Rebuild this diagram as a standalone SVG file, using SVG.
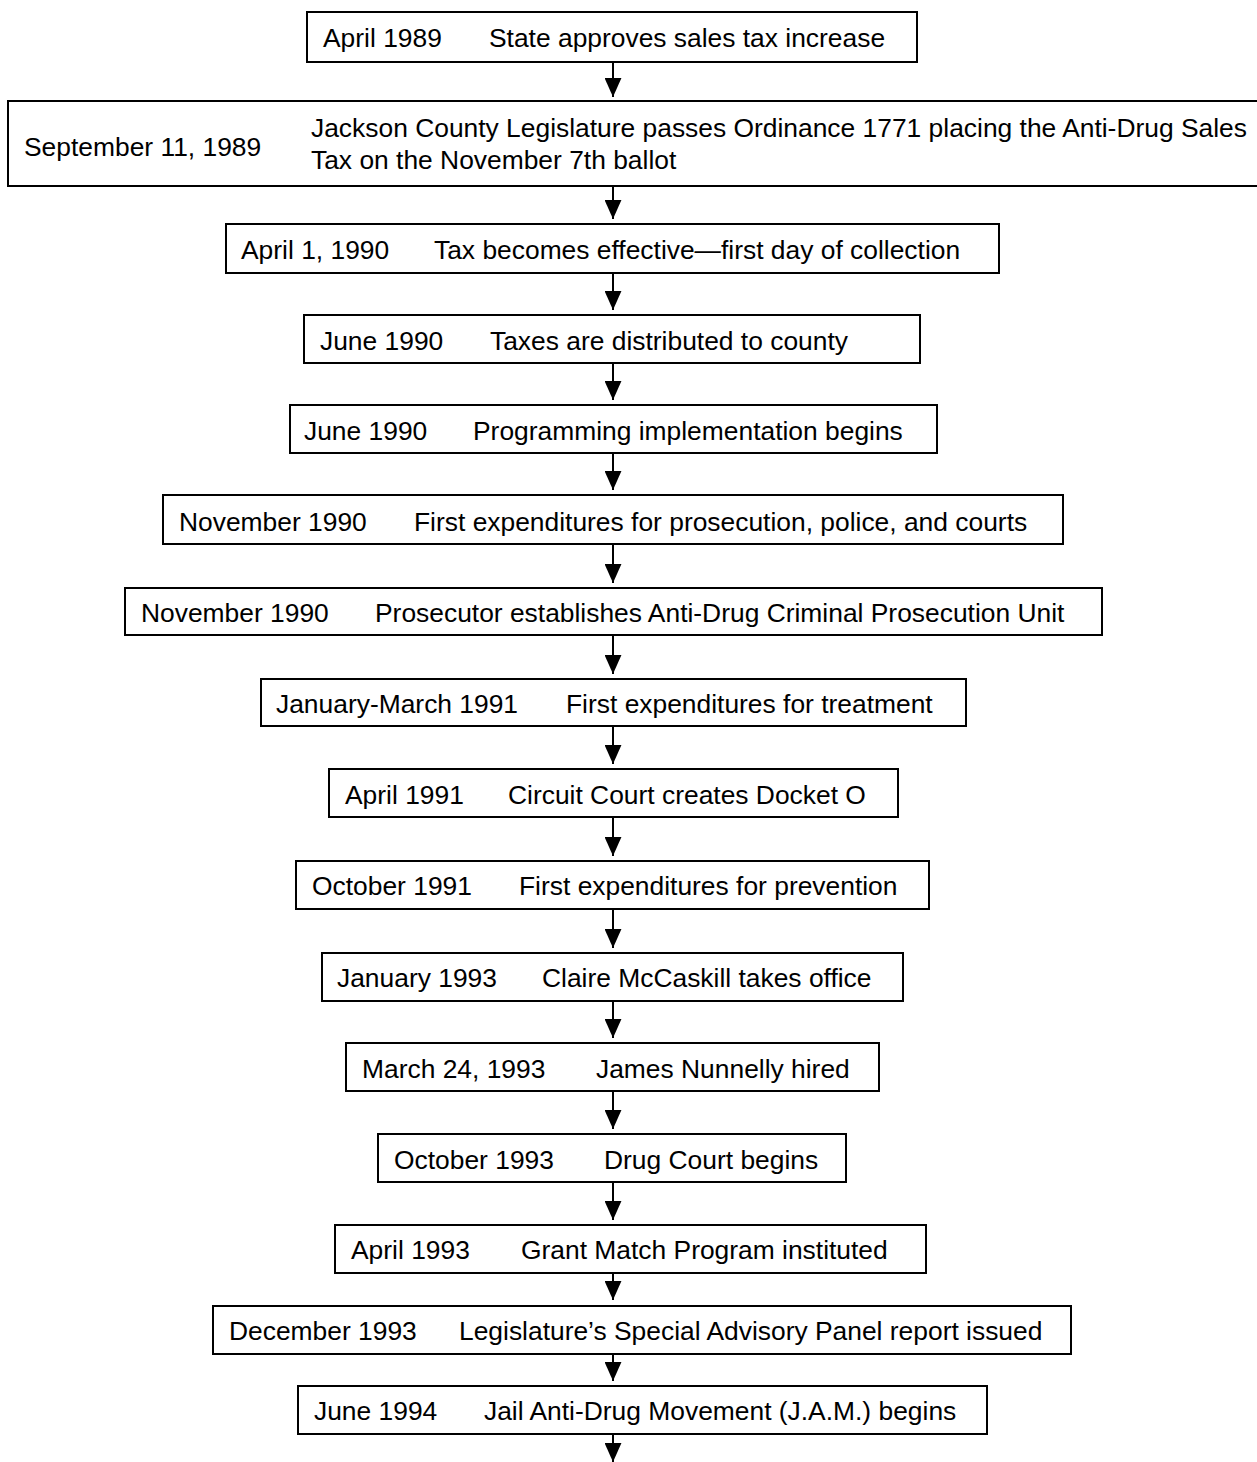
<svg xmlns="http://www.w3.org/2000/svg" width="1257" height="1462" viewBox="0 0 1257 1462">
  <defs>
    <!-- arrowhead drawn along +x so orient="auto" points it down each line -->
    <marker id="head" markerUnits="userSpaceOnUse" markerWidth="19" markerHeight="17" refX="18" refY="8" orient="auto" viewBox="0 0 18 16">
      <path d="M0,0 L18,8 L0,16 Z" fill="#000"/>
    </marker>
    <style>
      .box { fill: #fff; stroke: #000; stroke-width: 2; }
      text { font-family: "Liberation Sans", Arial, Helvetica, sans-serif; font-size: 26.4px; fill: #000; }
      .link { stroke: #000; stroke-width: 2; fill: none; }
    </style>
  </defs>
  <rect width="1257" height="1462" fill="#fff"/>

  <!-- connectors: vertical arrows between consecutive events -->
  <g id="connectors">
    <line class="link" x1="613" y1="62" x2="613" y2="97" marker-end="url(#head)"/>
    <line class="link" x1="613" y1="186" x2="613" y2="219" marker-end="url(#head)"/>
    <line class="link" x1="613" y1="273" x2="613" y2="310" marker-end="url(#head)"/>
    <line class="link" x1="613" y1="363" x2="613" y2="400" marker-end="url(#head)"/>
    <line class="link" x1="613" y1="453" x2="613" y2="490" marker-end="url(#head)"/>
    <line class="link" x1="613" y1="544" x2="613" y2="583" marker-end="url(#head)"/>
    <line class="link" x1="613" y1="635" x2="613" y2="674" marker-end="url(#head)"/>
    <line class="link" x1="613" y1="726" x2="613" y2="764" marker-end="url(#head)"/>
    <line class="link" x1="613" y1="817" x2="613" y2="856" marker-end="url(#head)"/>
    <line class="link" x1="613" y1="909" x2="613" y2="948" marker-end="url(#head)"/>
    <line class="link" x1="613" y1="1001" x2="613" y2="1038" marker-end="url(#head)"/>
    <line class="link" x1="613" y1="1091" x2="613" y2="1129" marker-end="url(#head)"/>
    <line class="link" x1="613" y1="1182" x2="613" y2="1220" marker-end="url(#head)"/>
    <line class="link" x1="613" y1="1273" x2="613" y2="1300" marker-end="url(#head)"/>
    <line class="link" x1="613" y1="1354" x2="613" y2="1381" marker-end="url(#head)"/>
    <line class="link" x1="613" y1="1434" x2="613" y2="1462" marker-end="url(#head)"/>
  </g>

  <g id="n1"><rect class="box" x="307" y="12" width="610" height="50"/>
    <text x="323" y="47">April 1989</text><text x="489" y="47">State approves sales tax increase</text></g>
  <g id="n2"><rect class="box" x="8" y="101" width="1260" height="85"/>
    <text x="24" y="156">September 11, 1989</text>
    <text x="311" y="137">Jackson County Legislature passes Ordinance 1771 placing the Anti-Drug Sales</text>
    <text x="311" y="169">Tax on the November 7th ballot</text></g>
  <g id="n3"><rect class="box" x="226" y="224" width="773" height="49"/>
    <text x="241" y="259">April 1, 1990</text><text x="434" y="259">Tax becomes effective—first day of collection</text></g>
  <g id="n4"><rect class="box" x="304" y="315" width="616" height="48"/>
    <text x="320" y="350">June 1990</text><text x="490" y="350">Taxes are distributed to county</text></g>
  <g id="n5"><rect class="box" x="290" y="405" width="647" height="48"/>
    <text x="304" y="440">June 1990</text><text x="473" y="440">Programming implementation begins</text></g>
  <g id="n6"><rect class="box" x="163" y="495" width="900" height="49"/>
    <text x="179" y="531">November 1990</text><text x="414" y="531">First expenditures for prosecution, police, and courts</text></g>
  <g id="n7"><rect class="box" x="125" y="588" width="977" height="47"/>
    <text x="141" y="622">November 1990</text><text x="375" y="622">Prosecutor establishes Anti-Drug Criminal Prosecution Unit</text></g>
  <g id="n8"><rect class="box" x="261" y="679" width="705" height="47"/>
    <text x="276" y="713">January-March 1991</text><text x="566" y="713">First expenditures for treatment</text></g>
  <g id="n9"><rect class="box" x="329" y="769" width="569" height="48"/>
    <text x="345" y="804">April 1991</text><text x="508" y="804">Circuit Court creates Docket O</text></g>
  <g id="n10"><rect class="box" x="296" y="861" width="633" height="48"/>
    <text x="312" y="895">October 1991</text><text x="519" y="895">First expenditures for prevention</text></g>
  <g id="n11"><rect class="box" x="322" y="953" width="581" height="48"/>
    <text x="337" y="987">January 1993</text><text x="542" y="987">Claire McCaskill takes office</text></g>
  <g id="n12"><rect class="box" x="346" y="1043" width="533" height="48"/>
    <text x="362" y="1078">March 24, 1993</text><text x="596" y="1078">James Nunnelly hired</text></g>
  <g id="n13"><rect class="box" x="378" y="1134" width="468" height="48"/>
    <text x="394" y="1169">October 1993</text><text x="604" y="1169">Drug Court begins</text></g>
  <g id="n14"><rect class="box" x="335" y="1225" width="591" height="48"/>
    <text x="351" y="1259">April 1993</text><text x="521" y="1259">Grant Match Program instituted</text></g>
  <g id="n15"><rect class="box" x="213" y="1306" width="858" height="48"/>
    <text x="229" y="1340">December 1993</text><text x="459" y="1340">Legislature’s Special Advisory Panel report issued</text></g>
  <g id="n16"><rect class="box" x="298" y="1386" width="689" height="48"/>
    <text x="314" y="1420">June 1994</text><text x="484" y="1420">Jail Anti-Drug Movement (J.A.M.) begins</text></g>
</svg>
